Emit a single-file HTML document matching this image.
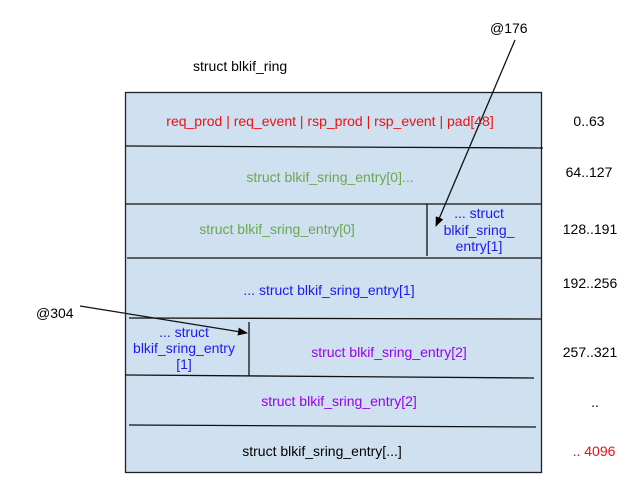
<!DOCTYPE html>
<html><head><style>body{margin:0;background:#fff}</style></head><body>
<svg width="640" height="478" xmlns="http://www.w3.org/2000/svg" font-family="Liberation Sans, sans-serif" font-size="14">
<defs><marker id="a" markerWidth="10" markerHeight="8" refX="9" refY="4" orient="auto" markerUnits="userSpaceOnUse"><path d="M0,0 L10,4 L0,8 z" fill="#000"/></marker></defs>
<rect x="125.5" y="92.5" width="416" height="380" fill="#cfe0f1" stroke="#222" stroke-width="1.3"/>
<g stroke="#111" stroke-width="1.3">
<line x1="125" y1="146" x2="543" y2="148"/>
<line x1="125" y1="204" x2="541" y2="204"/>
<line x1="127" y1="258" x2="541" y2="258"/>
<line x1="129" y1="318" x2="541" y2="319"/>
<line x1="125" y1="375" x2="534" y2="378"/>
<line x1="129" y1="425" x2="536" y2="427"/>
<line x1="427" y1="204" x2="427" y2="256"/>
<line x1="249" y1="322" x2="249" y2="376"/>
<line x1="515" y1="40" x2="436" y2="226" marker-end="url(#a)"/>
<line x1="80" y1="306" x2="247" y2="333" marker-end="url(#a)"/>
</g>
<text x="193" y="71" fill="#000">struct blkif_ring</text>
<text x="490" y="33" fill="#000">@176</text>
<text x="36" y="318" fill="#000">@304</text>
<g text-anchor="middle">
<text x="330" y="126" fill="#ee1111">req_prod | req_event | rsp_prod | rsp_event | pad[48]</text>
<text x="330" y="182" fill="#6aa84f">struct blkif_sring_entry[0]...</text>
<text x="277" y="234" fill="#6aa84f">struct blkif_sring_entry[0]</text>
<text x="479" y="218" fill="#1a1aee">... struct</text>
<text x="479" y="235" fill="#1a1aee">blkif_sring_</text>
<text x="479" y="251" fill="#1a1aee">entry[1]</text>
<text x="329" y="295" fill="#1a1aee">... struct blkif_sring_entry[1]</text>
<text x="184" y="337" fill="#1a1aee">... struct</text>
<text x="184" y="353" fill="#1a1aee">blkif_sring_entry</text>
<text x="184" y="369" fill="#1a1aee">[1]</text>
<text x="389" y="357" fill="#9900ee">struct blkif_sring_entry[2]</text>
<text x="339" y="406" fill="#9900ee">struct blkif_sring_entry[2]</text>
<text x="322" y="456" fill="#000">struct blkif_sring_entry[...]</text>
<text x="589" y="126" fill="#000">0..63</text>
<text x="589" y="177" fill="#000">64..127</text>
<text x="590" y="234" fill="#000">128..191</text>
<text x="590" y="288" fill="#000">192..256</text>
<text x="590" y="357" fill="#000">257..321</text>
<text x="595" y="407" fill="#000">..</text>
<text x="594" y="456" fill="#ee1111">.. 4096</text>
</g>
</svg>
</body></html>
